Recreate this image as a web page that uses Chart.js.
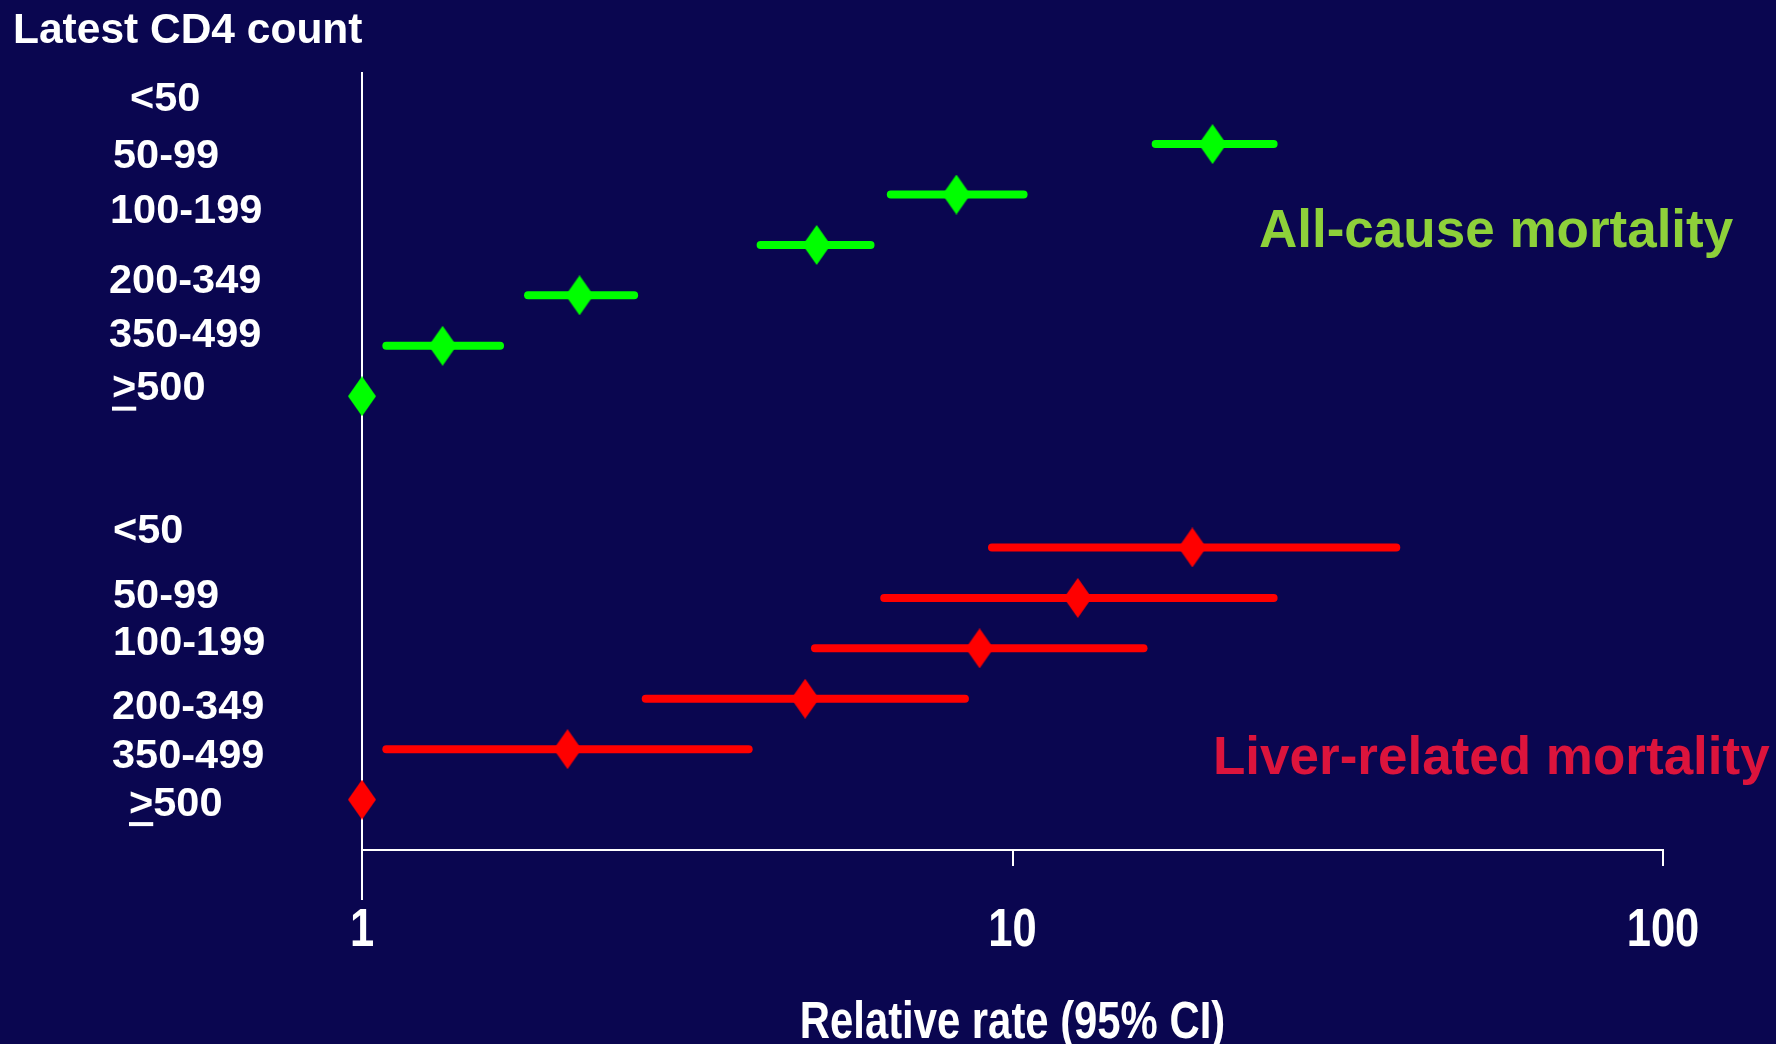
<!DOCTYPE html>
<html>
<head>
<meta charset="utf-8">
<title>Relative rate of death by latest CD4 count</title>
<script src="https://cdn.jsdelivr.net/npm/chart.js@4.4.1/dist/chart.umd.min.js"></script>
<style>
  html, body { margin: 0; padding: 0; background: #0A0650; overflow: hidden; }
  #wrap { width: 1776px; height: 1044px; }
</style>
</head>
<body>
<div id="wrap"><canvas id="chart" width="1776" height="1044"></canvas></div>
<script>
// ---- data -------------------------------------------------------------
const categories = ['<50', '50-99', '100-199', '200-349', '350-499', '>500'];

// all-cause mortality: relative rate and 95% CI per latest CD4 stratum
const allCauseRR   = [20.3, 8.2, 5.0, 2.16, 1.33, 1];
const allCauseLow  = [16.6, 6.5, 4.1, 1.80, 1.09, null];
const allCauseHigh = [25.2, 10.4, 6.05, 2.62, 1.63, null];

// liver-related mortality
const liverRR   = [18.9, 12.6, 8.9, 4.8, 2.07, 1];
const liverLow  = [9.3, 6.35, 4.97, 2.73, 1.09, null];
const liverHigh = [38.9, 25.2, 15.9, 8.45, 3.93, null];

const xTicks = [1, 10, 100];
const xTickLabels = ['1', '10', '100'];
const xTitle = 'Relative rate (95% CI)';

// ---- layout & style ---------------------------------------------------
const BG = '#0A0650';
const WHITE = '#FFFFFF';
const GREEN = '#00FF00';
const RED = '#FF0000';
const ALL_CAUSE_TEXT = '#8ED13A';
const LIVER_TEXT = '#DC143C';
const SANS = '"Liberation Sans", Arial, Helvetica, sans-serif';
const NARROW_SCALE = 0.82;   // horizontal squeeze for the axis lettering

// first row of each block on the (reversed) row axis
const allCauseStart = 0;
const liverStart = 8;
// label rows (row units) and left edges for the stratum labels of each block
const allCauseLabelRow = [-0.88, 0.24, 1.34, 2.73, 3.79, 4.85];
const allCauseLabelX   = [130, 113, 110, 109, 109, 112];
const liverLabelRow = [7.69, 8.98, 9.91, 11.18, 12.14, 13.09];
const liverLabelX   = [113, 113, 113, 112, 112, 129];

// tall diamond marker used for the point estimates
function diamond(color) {
  const c = document.createElement('canvas');
  c.width = 28; c.height = 40;
  const g = c.getContext('2d');
  g.fillStyle = color;
  g.beginPath();
  g.moveTo(14, 0); g.lineTo(28, 20); g.lineTo(14, 40); g.lineTo(0, 20);
  g.closePath(); g.fill();
  return c;
}

function ciDatasets(low, high, start, color) {
  const sets = [];
  low.forEach((lo, i) => {
    if (lo == null) return;
    sets.push({
      data: [{ x: lo, y: start + i }, { x: high[i], y: start + i }],
      showLine: true,
      borderColor: color,
      borderWidth: 8,
      borderCapStyle: 'round',
      pointRadius: 0,
      clip: false,
      order: 2
    });
  });
  return sets;
}

function pointDataset(rr, start, color) {
  return {
    data: rr.map((v, i) => ({ x: v, y: start + i })),
    pointStyle: diamond(color),
    pointRadius: 14,
    clip: false,
    order: 1
  };
}

const datasets = [
  ...ciDatasets(allCauseLow, allCauseHigh, allCauseStart, GREEN),
  ...ciDatasets(liverLow, liverHigh, liverStart, RED),
  pointDataset(allCauseRR, allCauseStart, GREEN),
  pointDataset(liverRR, liverStart, RED)
];

// background fill
const background = {
  id: 'background',
  beforeDraw(chart) {
    const ctx = chart.ctx;
    ctx.save();
    ctx.fillStyle = BG;
    ctx.fillRect(0, 0, chart.width, chart.height);
    ctx.restore();
  }
};

// vertical line at relative rate = 1
const referenceLine = {
  id: 'referenceLine',
  beforeDatasetsDraw(chart) {
    const { ctx, chartArea, scales } = chart;
    const x = Math.round(scales.x.getPixelForValue(1));
    ctx.save();
    ctx.strokeStyle = WHITE;
    ctx.lineWidth = 2;
    ctx.beginPath();
    ctx.moveTo(x, chartArea.top);
    ctx.lineTo(x, chartArea.bottom + 50);
    ctx.stroke();
    ctx.restore();
  }
};

function narrowText(ctx, text, x, y, size) {
  ctx.save();
  ctx.translate(x, y);
  ctx.scale(NARROW_SCALE, 1);
  ctx.font = 'bold ' + size + 'px ' + SANS;
  ctx.textAlign = 'center';
  ctx.textBaseline = 'alphabetic';
  ctx.fillText(text, 0, 0);
  ctx.restore();
}

// condensed tick labels and title of the rate axis, placed from the scale
const axisLettering = {
  id: 'axisLettering',
  afterDraw(chart) {
    const { ctx, scales, chartArea } = chart;
    const xs = scales.x;
    ctx.save();
    ctx.fillStyle = WHITE;
    xs.ticks.forEach((t, i) => {
      narrowText(ctx, xTickLabels[i], xs.getPixelForValue(t.value), chartArea.bottom + 96, 53);
    });
    narrowText(ctx, xTitle, (chartArea.left + chartArea.right) / 2, chartArea.bottom + 188, 51);
    ctx.restore();
  }
};

// heading, stratum labels and block captions
const texts = {
  id: 'texts',
  afterDraw(chart) {
    const { ctx, scales } = chart;
    const y = scales.y;
    ctx.save();
    ctx.fillStyle = WHITE;
    ctx.textAlign = 'left';
    ctx.textBaseline = 'alphabetic';
    ctx.font = 'bold 42.5px ' + SANS;
    ctx.fillText('Latest CD4 count', 13, 43);

    ctx.font = 'bold 41.5px ' + SANS;
    ctx.textBaseline = 'middle';
    const drawLabels = (rows, xs) => {
      categories.forEach((label, i) => {
        const cy = y.getPixelForValue(rows[i]);
        const x = xs[i];
        ctx.fillText(label, x, cy);
        if (label.startsWith('>')) {
          // underlined '>' reads as "greater than or equal to"
          const w = ctx.measureText('>').width;
          ctx.fillRect(x, cy + 18, w, 4);
        }
      });
    };
    drawLabels(allCauseLabelRow, allCauseLabelX);
    drawLabels(liverLabelRow, liverLabelX);

    ctx.textBaseline = 'alphabetic';
    ctx.font = 'bold 53px ' + SANS;
    ctx.fillStyle = ALL_CAUSE_TEXT;
    ctx.fillText('All-cause mortality', 1259, 247);
    ctx.fillStyle = LIVER_TEXT;
    ctx.fillText('Liver-related mortality', 1213, 774);
    ctx.restore();
  }
};

new Chart(document.getElementById('chart'), {
  type: 'scatter',
  data: { datasets },
  plugins: [background, referenceLine, axisLettering, texts],
  options: {
    responsive: false,
    animation: false,
    events: [],
    layout: { padding: { left: 362, right: 113, top: 72, bottom: 0 } },
    plugins: { legend: { display: false }, tooltip: { enabled: false } },
    scales: {
      x: {
        type: 'logarithmic',
        position: 'bottom',
        min: 1,
        max: 100,
        afterBuildTicks: (s) => { s.ticks = xTicks.map(v => ({ value: v })); },
        afterFit: (s) => { s.height = 194; },
        ticks: { display: false, autoSkip: false },
        grid: {
          display: true,
          drawOnChartArea: false,
          drawTicks: true,
          tickLength: 16,
          color: WHITE,
          lineWidth: 2
        },
        border: { display: true, color: WHITE, width: 2 },
        title: { display: false }
      },
      y: {
        type: 'linear',
        display: false,
        reverse: true,
        min: -1.43,
        max: 14.0
      }
    }
  }
});
</script>
</body>
</html>
